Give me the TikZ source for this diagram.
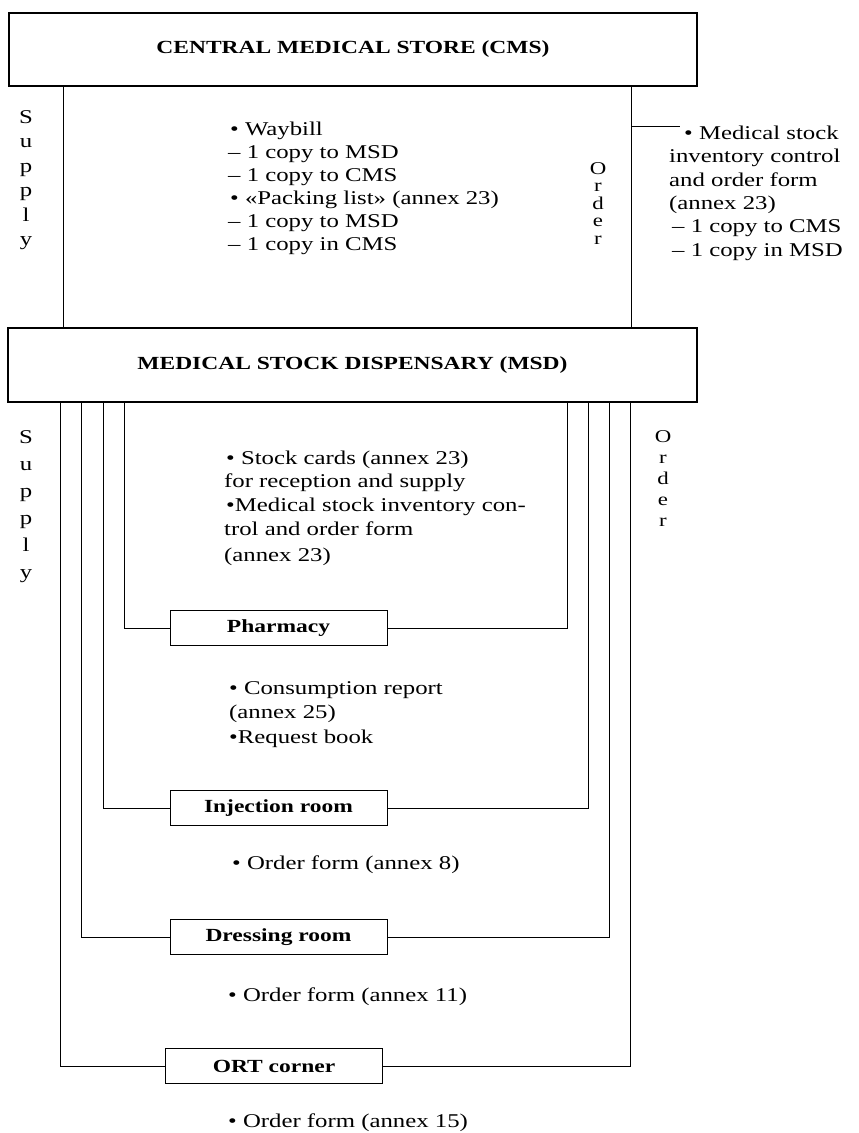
\documentclass[tikz,border=0pt]{standalone}
\usepackage{fontspec}
\setmainfont{Liberation Serif}[FakeStretch=1.27]
\begin{document}
\begin{tikzpicture}[x=1pt,y=-1pt,
  bigbox/.style={draw,line width=1.3pt,inner sep=0pt,font=\fontsize{18.5}{22}\selectfont\bfseries},
  roombox/.style={draw,line width=0.9pt,inner sep=0pt,minimum width=217pt,minimum height=35pt,font=\fontsize{18.5}{22}\selectfont\bfseries},
  txt/.style={anchor=base west,inner sep=0pt,font=\fontsize{19.5}{23}\selectfont},
  vert/.style={anchor=north,inner sep=0pt,align=center,font=\fontsize{19.5}{24.5}\selectfont},
  vertord/.style={anchor=north,inner sep=0pt,align=center,font=\fontsize{18}{17.5}\selectfont},
  ln/.style={line width=0.9pt}]
\useasboundingbox (0,0) rectangle (859,1133);
\fill[white] (0,0) rectangle (859,1133);

% main boxes
\node[bigbox,minimum width=688pt,minimum height=73pt] (cms) at (353,49.5) {CENTRAL MEDICAL STORE (CMS)};
\node[bigbox,minimum width=689pt,minimum height=74pt] (msd) at (352.5,365) {MEDICAL STOCK DISPENSARY (MSD)};

% room boxes
\node[roombox] (ph) at (278.5,628) {Pharmacy};
\node[roombox] (inj) at (278.5,808) {Injection room};
\node[roombox] (dr) at (278.5,937) {Dressing room};
\node[roombox] (ort) at (274,1066) {ORT corner};

% CMS -- MSD verticals
\coordinate (cl) at (63,0);
\coordinate (cr) at (631,0);
\draw[ln] (cms.south -| cl) -- (msd.north -| cl);
\draw[ln] (cms.south -| cr) -- (msd.north -| cr);
\coordinate (tick1) at (631,126);
\coordinate (tick2) at (680,126);
\draw[ln] (tick1) -- (tick2);

% MSD -- rooms
\coordinate (l1) at (124,0); \coordinate (r1) at (567,0);
\coordinate (l2) at (103,0); \coordinate (r2) at (588,0);
\coordinate (l3) at (81,0);  \coordinate (r3) at (609,0);
\coordinate (l4) at (60,0);  \coordinate (r4) at (630,0);
\draw[ln] (ph.west) -| (msd.south -| l1);
\draw[ln] (ph.east) -| (msd.south -| r1);
\draw[ln] (inj.west) -| (msd.south -| l2);
\draw[ln] (inj.east) -| (msd.south -| r2);
\draw[ln] (dr.west) -| (msd.south -| l3);
\draw[ln] (dr.east) -| (msd.south -| r3);
\draw[ln] (ort.west) -| (msd.south -| l4);
\draw[ln] (ort.east) -| (msd.south -| r4);

% vertical labels
\node[vert] (sup1) at (26,110) {S\\u\\p\\p\\l\\y};
\node[vertord] (ord1) at (598,162) {O\\r\\d\\e\\r};
\node[vert,font=\fontsize{19.5}{27}\selectfont] (sup2) at (26,430) {S\\u\\p\\p\\l\\y};
\node[vertord,font=\fontsize{18}{21}\selectfont] (ord2) at (663,430) {O\\r\\d\\e\\r};

% text blocks
\node[txt] (a1) at (230,135) {• Waybill};
\node[txt] (a2) at (228,158) {– 1 copy to MSD};
\node[txt] (a3) at (228,181) {– 1 copy to CMS};
\node[txt] (a4) at (230,204) {• «Packing list» (annex 23)};
\node[txt] (a5) at (228,227) {– 1 copy to MSD};
\node[txt] (a6) at (228,250) {– 1 copy in CMS};

\node[txt] (b1) at (684,139) {• Medical stock};
\node[txt] (b2) at (669,162) {inventory control};
\node[txt] (b3) at (669,186) {and order form};
\node[txt] (b4) at (669,209) {(annex 23)};
\node[txt] (b5) at (672,232) {– 1 copy to CMS};
\node[txt] (b6) at (672,256) {– 1 copy in MSD};

\node[txt] (c1) at (226,464) {• Stock cards (annex 23)};
\node[txt] (c2) at (224,487) {for reception and supply};
\node[txt] (c3) at (226,511) {•Medical stock inventory con-};
\node[txt] (c4) at (224,535) {trol and order form};
\node[txt] (c5) at (224,561) {(annex 23)};

\node[txt] (d1) at (229,694) {• Consumption report};
\node[txt] (d2) at (229,718) {(annex 25)};
\node[txt] (d3) at (229,743) {•Request book};

\node[txt] (e1) at (232,869) {• Order form (annex 8)};
\node[txt] (f1) at (228,1001) {• Order form (annex 11)};
\node[txt] (g1) at (228,1127) {• Order form (annex 15)};
\end{tikzpicture}
\end{document}
